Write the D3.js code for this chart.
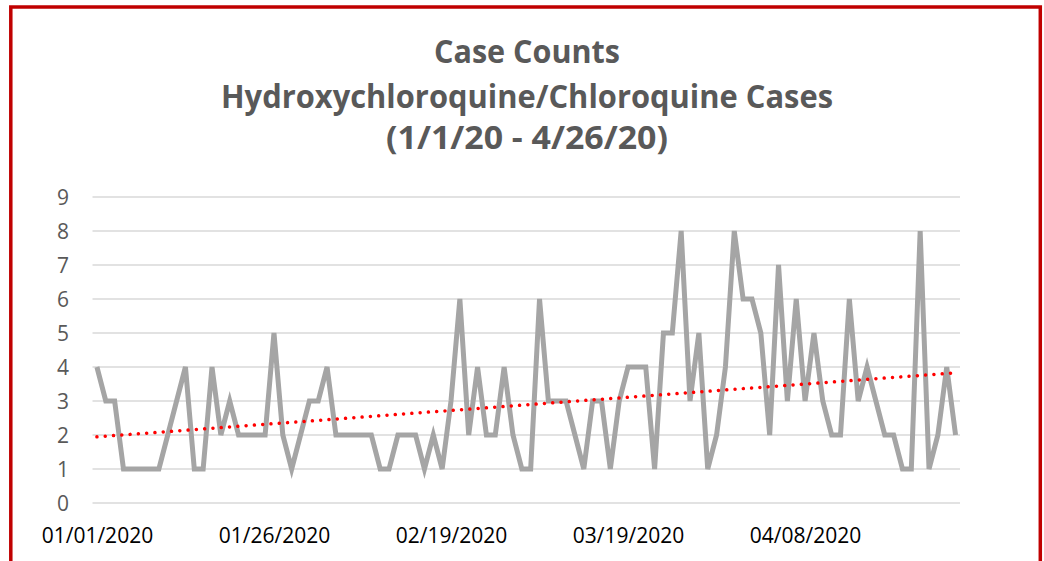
<!DOCTYPE html>
<html>
<head>
<meta charset="utf-8">
<script src="https://cdn.jsdelivr.net/npm/d3@7"></script>
<style>
  body { margin: 0; background: #fff; }
  text { font-family: "Open Sans", "Liberation Sans", sans-serif; }
</style>
</head>
<body>
<div id="chart"></div>
<script>
// daily case counts, 1/1/20 - 4/26/20 (98 reported days)
let caseCounts = [4,3,3,1,1,1,1,1,2,3,
                  4,1,1,4,2,3,2,2,2,2,
                  5,2,1,2,3,3,4,2,2,2,
                  2,2,1,1,2,2,2,1,2,1,
                  3,6,2,4,2,2,4,2,1,1,
                  6,3,3,3,2,1,3,3,1,3,
                  4,4,4,1,5,5,8,3,5,1,
                  2,4,8,6,6,5,2,7,3,6,
                  3,5,3,2,2,6,3,4,3,2,
                  2,1,1,8,1,2,4,2];

// x tick labels and the day index they sit on
let tickDays = [0,20,40,60,80];
let tickLabels = ["01/01/2020","01/26/2020","02/19/2020","03/19/2020","04/08/2020"];
let yTicks = [0,1,2,3,4,5,6,7,8,9];

let titleLines = ["Case Counts","Hydroxychloroquine/Chloroquine Cases","(1/1/20 - 4/26/20)"];

var W = 1044, H = 561;

var svg = d3.select("#chart").append("svg")
  .attr("width", W)
  .attr("height", H);

// red frame round the chart (runs off the bottom)
svg.append("rect")
  .attr("x", 10.8).attr("y", 7)
  .attr("width", 1029.5).attr("height", 600)
  .attr("fill", "none")
  .attr("stroke", "#C00000")
  .attr("stroke-width", 3.5);

// title
var titleY = [63, 108, 149];
var titleW = [186, 612, 282];
svg.selectAll(".title").data(titleLines).enter().append("text")
  .attr("class", "title")
  .attr("x", 527)
  .attr("y", (d,i) => titleY[i])
  .attr("text-anchor", "middle")
  .attr("textLength", (d,i) => titleW[i])
  .attr("lengthAdjust", "spacingAndGlyphs")
  .style("font-size", "32px")
  .style("font-weight", "bold")
  .attr("fill", "#595959")
  .text(d => d);

var idx = d3.range(caseCounts.length);

var x = d3.scalePoint()
  .domain(idx)
  .range([92.5, 960])
  .padding(0.5);

var y = d3.scaleLinear()
  .domain([0, 9])
  .range([503, 197]);

// horizontal grid
svg.append("g").selectAll("line").data(yTicks).enter().append("line")
  .attr("x1", 92.5).attr("x2", 960)
  .attr("y1", d => y(d)).attr("y2", d => y(d))
  .attr("stroke", "#d9d9d9")
  .attr("stroke-width", 1.5);

// y axis labels
var yAxis = d3.axisLeft(y).tickValues(yTicks).tickSize(0).tickPadding(0);
var gy = svg.append("g").attr("transform", "translate(69,0)").call(yAxis);
gy.select(".domain").remove();
gy.selectAll(".tick text")
  .attr("fill", "#595959")
  .style("font-size", "21px")
  .style("font-family", "'Open Sans', sans-serif")
  .attr("dy", "0.36em");

// x axis labels
var xAxis = d3.axisBottom(x)
  .tickValues(tickDays)
  .tickSize(0)
  .tickFormat((d) => tickLabels[tickDays.indexOf(d)]);
var gx = svg.append("g").attr("transform", "translate(0,528)").call(xAxis);
gx.select(".domain").remove();
gx.selectAll(".tick text")
  .attr("fill", "#000")
  .attr("y", 0)
  .attr("dy", "0.71em")
  .style("font-size", "21px")
  .style("font-family", "'Open Sans', sans-serif");

// case count line
var line = d3.line()
  .x((d,i) => x(i))
  .y(d => y(d));

svg.append("path")
  .datum(caseCounts)
  .attr("fill", "none")
  .attr("stroke", "#A5A5A5")
  .attr("stroke-width", 5)
  .attr("stroke-linejoin", "miter")
  .attr("d", line);

// linear trendline (least squares over the counts)
var mx = d3.mean(idx), my = d3.mean(caseCounts);
var sxy = d3.sum(idx, i => (i - mx) * (caseCounts[i] - my));
var sxx = d3.sum(idx, i => (i - mx) * (i - mx));
var slope = sxy / sxx, icpt = my - slope * mx;
var trend = [0, caseCounts.length - 1].map(i => ({i: i, v: icpt + slope * i}));

svg.append("path")
  .datum(trend)
  .attr("fill", "none")
  .attr("stroke", "#FF0000")
  .attr("stroke-width", 3.5)
  .attr("stroke-linecap", "round")
  .attr("stroke-dasharray", "0.01,8.3")
  .attr("d", d3.line().x(d => x(d.i)).y(d => y(d.v)));
</script>
</body>
</html>
